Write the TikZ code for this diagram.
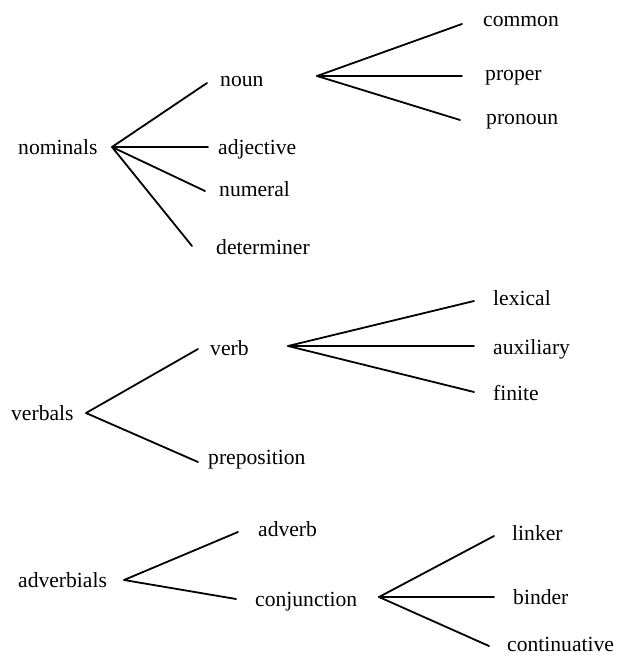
\documentclass[tikz,border=0pt]{standalone}
\usepackage{fontspec}
\setmainfont{Liberation Serif}
\begin{document}
\begin{tikzpicture}[x=1pt,y=-1pt,
  lbl/.style={anchor=base west,inner sep=0pt,font=\fontsize{21.6}{26}\selectfont},
  edge/.style={line width=1.8pt,line cap=round,line join=round}]
\useasboundingbox (0,0) rectangle (617,655);
% ---- nominals ----
\node[lbl] (nominals) at (18,154) {nominals};
\node[lbl] (noun) at (220,87) {noun};
\node[lbl] (adjective) at (218,154) {adjective};
\node[lbl] (numeral) at (219,196) {numeral};
\node[lbl] (determiner) at (216,254) {determiner};
\node[lbl] (common) at (483,27) {common};
\node[lbl] (proper) at (485,81) {proper};
\node[lbl] (pronoun) at (486,125) {pronoun};
\coordinate (nominalsO) at (112,147);
\coordinate (nounI) at (207,83);
\coordinate (adjectiveI) at (208,147);
\coordinate (numeralI) at (205,191);
\coordinate (determinerI) at (192,246);
\coordinate (nounO) at (317,76);
\coordinate (commonI) at (462,24);
\coordinate (properI) at (462,76);
\coordinate (pronounI) at (460,120);
\draw[edge] (nounI) -- (nominalsO) -- (adjectiveI);
\draw[edge] (numeralI) -- (nominalsO) -- (determinerI);
\draw[edge] (commonI) -- (nounO) -- (properI);
\draw[edge] (nounO) -- (pronounI);
% ---- verbals ----
\node[lbl] (verbals) at (11,420) {verbals};
\node[lbl] (verb) at (210,355) {verb};
\node[lbl] (preposition) at (208,464) {preposition};
\node[lbl] (lexical) at (493,305) {lexical};
\node[lbl] (auxiliary) at (493,354) {auxiliary};
\node[lbl] (finite) at (493,400) {finite};
\coordinate (verbalsO) at (86,413);
\coordinate (verbI) at (198,349);
\coordinate (prepositionI) at (198,462);
\coordinate (verbO) at (288,346);
\coordinate (lexicalI) at (474,301);
\coordinate (auxiliaryI) at (474,346);
\coordinate (finiteI) at (474,392);
\draw[edge] (verbI) -- (verbalsO) -- (prepositionI);
\draw[edge] (lexicalI) -- (verbO) -- (auxiliaryI);
\draw[edge] (verbO) -- (finiteI);
% ---- adverbials ----
\node[lbl] (adverbials) at (18,587) {adverbials};
\node[lbl] (adverb) at (258,536) {adverb};
\node[lbl] (conjunction) at (255,606) {conjunction};
\node[lbl] (linker) at (512,540) {linker};
\node[lbl] (binder) at (513,604) {binder};
\node[lbl] (continuative) at (507,651) {continuative};
\coordinate (adverbialsO) at (124,580);
\coordinate (adverbI) at (238,532);
\coordinate (conjunctionI) at (236,599);
\coordinate (conjunctionO) at (379,597);
\coordinate (linkerI) at (494,536);
\coordinate (binderI) at (494,597);
\coordinate (continuativeI) at (489,646);
\draw[edge] (adverbI) -- (adverbialsO) -- (conjunctionI);
\draw[edge] (linkerI) -- (conjunctionO) -- (binderI);
\draw[edge] (conjunctionO) -- (continuativeI);
\end{tikzpicture}
\end{document}
